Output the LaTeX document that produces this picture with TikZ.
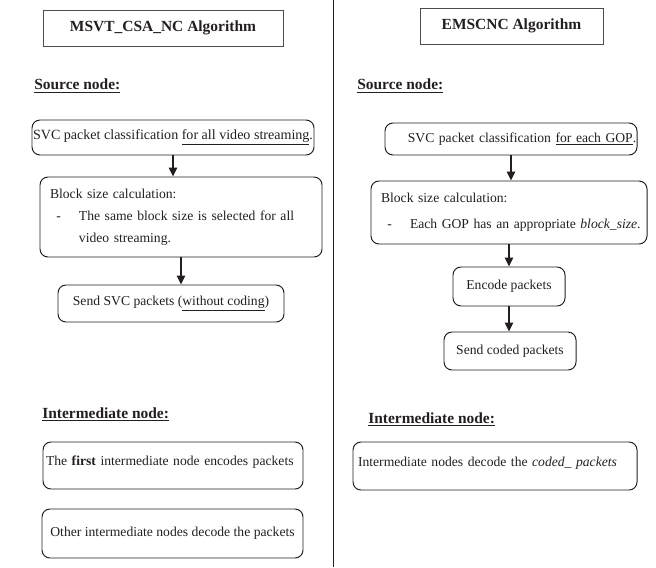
\documentclass[tikz,border=0pt]{standalone}
\usepackage{fontspec}
\setmainfont{Liberation Serif}
\usepackage{xcolor}
\usepackage{tikz}
\usetikzlibrary{arrows.meta}

\definecolor{inkgray}{HTML}{231F20}
\newcommand{\dashitem}{\hspace*{0.16cm}\makebox[0.565cm][l]{-}}
\newcommand{\contline}{\hspace*{0.725cm}}

\tikzset{
  titlebox/.style={draw=inkgray!80,line width=0.5pt,inner sep=0pt,font=\fontsize{11}{13}\selectfont\bfseries},
  heading/.style={anchor=base west,inner sep=0pt,font=\fontsize{11}{13}\selectfont\bfseries},
  stepbox/.style={draw=inkgray,line width=0.7pt,rounded corners=0.2cm,inner sep=0pt,font=\fontsize{9.7}{12}\selectfont},
  toptext/.style={text height=0.3cm,text depth=0.3cm},
  flow/.style={-{Triangle[width=0.2cm,length=0.22cm]},line width=0.05cm,draw=inkgray}
}

\begin{document}
\begin{tikzpicture}[inkgray]

  \useasboundingbox (0,0) rectangle (16.4,-14.175);

  \coordinate (divtop) at (8.325,0);
  \coordinate (divbot) at (8.325,-14.175);
  \draw[line width=0.7pt] (divtop) -- (divbot);

  \node[titlebox,minimum width=6.0cm,minimum height=0.9cm] (titleL) at (4.075,-0.7) {MSVT\_CSA\_NC Algorithm};
  \node[heading] (srcL) at (0.85,-2.25) {\underline{Source node:}};

  \node[stepbox,minimum width=7.05cm,minimum height=0.875cm,font=\fontsize{10}{12}\selectfont] (boxL1) at (4.325,-3.4375)
    {SVC packet classification \underline{for all video streaming}.};
  \node[stepbox,inner xsep=0.25cm,text width=6.55cm,align=left,minimum height=2.0cm,
    font=\fontsize{9.7}{15.6}\selectfont] (boxL2) at (4.525,-5.425)
    {Block size calculation:\\
     \mbox{\dashitem The same block size is selected for all}\\
     \contline video streaming.};
  \node[stepbox,minimum width=5.65cm,minimum height=0.925cm] (boxL3) at (4.275,-7.5875)
    {Send SVC packets (\underline{without coding})};

  \node[heading] (interL) at (1.05,-10.45) {\underline{Intermediate node:}};
  \node[stepbox,toptext,inner xsep=0.075cm,text width=6.35cm,align=left,minimum height=1.175cm] (boxL4) at (4.325,-11.6375)
    {\mbox{The \textbf{first} intermediate node encodes packets}};
  \node[stepbox,minimum width=6.525cm,minimum height=1.225cm] (boxL5) at (4.3125,-13.3375)
    {Other intermediate nodes decode the packets};

  \draw[flow] (boxL1.south) -- (boxL1.south |- boxL2.north);
  \draw[flow] (boxL2.south) -- (boxL2.south |- boxL3.north);

  \node[titlebox,minimum width=4.575cm,minimum height=0.9cm] (titleR) at (12.7875,-0.65) {EMSCNC Algorithm};
  \node[heading] (srcR) at (8.925,-2.25) {\underline{Source node:}};

  \node[stepbox,inner xsep=0.02cm,text width=6.26cm,align=right,minimum height=0.8cm] (boxR1) at (12.775,-3.475)
    {SVC packet classification \underline{for each GOP}.};
  \node[stepbox,inner xsep=0.25cm,text width=6.4cm,align=left,minimum height=1.575cm,
    font=\fontsize{9.7}{18.5}\selectfont] (boxR2) at (12.725,-5.3125)
    {Block size calculation:\\
     \mbox{\dashitem Each GOP has an appropriate \textit{block\_size}.}};
  \node[stepbox,minimum width=2.8cm,minimum height=0.975cm] (boxR3) at (12.725,-7.1625) {Encode packets};
  \node[stepbox,minimum width=3.3cm,minimum height=0.95cm] (boxR4) at (12.75,-8.775) {Send coded packets};

  \node[heading] (interR) at (9.2,-10.575) {\underline{Intermediate node:}};
  \node[stepbox,toptext,inner xsep=0.125cm,text width=6.85cm,align=left,minimum height=1.2cm] (boxR5) at (12.375,-11.65)
    {\mbox{Intermediate nodes decode the \textit{coded\_ packets}}};

  \draw[flow] (boxR1.south) -- (boxR1.south |- boxR2.north);
  \draw[flow] (boxR2.south) -- (boxR2.south |- boxR3.north);
  \draw[flow] (boxR3.south) -- (boxR3.south |- boxR4.north);
\end{tikzpicture}
\end{document}
